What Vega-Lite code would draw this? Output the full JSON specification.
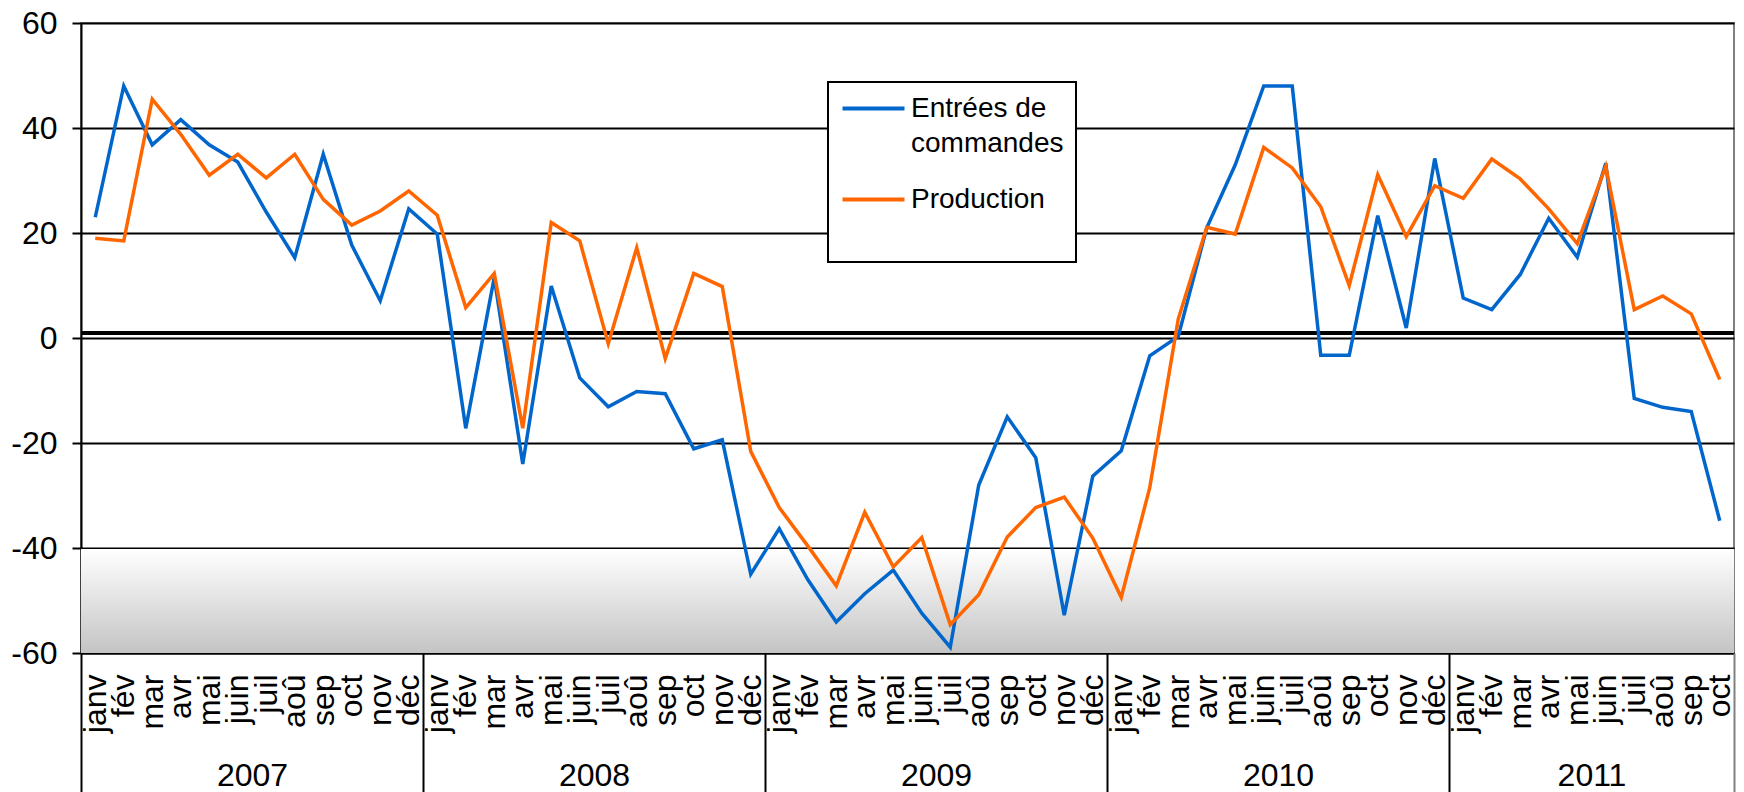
{
  "$schema": "https://vega.github.io/schema/vega-lite/v6.json",
  "width": 1653,
  "height": 630,
  "autosize": {"type": "none"},
  "padding": {"left": 81, "top": 23, "right": 10, "bottom": 139},
  "background": "white",
  "config": {
    "font": "Liberation Sans",
    "view": {"stroke": "#808080", "strokeWidth": 2},
    "legend": {"strokeWidth": 2},
    "axisY": {
      "grid": true, "gridColor": "black", "gridWidth": 2,
      "domainColor": "black", "domainWidth": 2,
      "tickColor": "black", "tickWidth": 2, "tickSize": 9,
      "labelFontSize": 32, "labelColor": "black", "labelPadding": 15
    },
    "axisX": {"grid": false}
  },
  "data": {
    "values": [
      {"t":1,"Entrées de commandes":23,"Production":19},
      {"t":2,"Entrées de commandes":48,"Production":18.5},
      {"t":3,"Entrées de commandes":36.8,"Production":45.5},
      {"t":4,"Entrées de commandes":41.6,"Production":38.8},
      {"t":5,"Entrées de commandes":36.8,"Production":31},
      {"t":6,"Entrées de commandes":33.5,"Production":35},
      {"t":7,"Entrées de commandes":24,"Production":30.5},
      {"t":8,"Entrées de commandes":15.3,"Production":35},
      {"t":9,"Entrées de commandes":35,"Production":26.4},
      {"t":10,"Entrées de commandes":17.7,"Production":21.5},
      {"t":11,"Entrées de commandes":7.1,"Production":24.2},
      {"t":12,"Entrées de commandes":24.6,"Production":28},
      {"t":13,"Entrées de commandes":19.8,"Production":23.4},
      {"t":14,"Entrées de commandes":-17.2,"Production":5.8},
      {"t":15,"Entrées de commandes":11.5,"Production":12.3},
      {"t":16,"Entrées de commandes":-24,"Production":-17.2},
      {"t":17,"Entrées de commandes":9.9,"Production":22},
      {"t":18,"Entrées de commandes":-7.6,"Production":18.5},
      {"t":19,"Entrées de commandes":-13.1,"Production":-1.1},
      {"t":20,"Entrées de commandes":-10.2,"Production":17.2},
      {"t":21,"Entrées de commandes":-10.6,"Production":-3.9},
      {"t":22,"Entrées de commandes":-21.1,"Production":12.3},
      {"t":23,"Entrées de commandes":-19.4,"Production":9.8},
      {"t":24,"Entrées de commandes":-45,"Production":-21.6},
      {"t":25,"Entrées de commandes":-36.3,"Production":-32.3},
      {"t":26,"Entrées de commandes":-46,"Production":-39.6},
      {"t":27,"Entrées de commandes":-54.1,"Production":-47.2},
      {"t":28,"Entrées de commandes":-48.7,"Production":-33.2},
      {"t":29,"Entrées de commandes":-44.2,"Production":-43.6},
      {"t":30,"Entrées de commandes":-52.4,"Production":-38},
      {"t":31,"Entrées de commandes":-58.9,"Production":-54.6},
      {"t":32,"Entrées de commandes":-28,"Production":-48.9},
      {"t":33,"Entrées de commandes":-15,"Production":-37.9},
      {"t":34,"Entrées de commandes":-22.8,"Production":-32.3},
      {"t":35,"Entrées de commandes":-52.8,"Production":-30.3},
      {"t":36,"Entrées de commandes":-26.3,"Production":-38.1},
      {"t":37,"Entrées de commandes":-21.5,"Production":-49.4},
      {"t":38,"Entrées de commandes":-3.4,"Production":-28.5},
      {"t":39,"Entrées de commandes":0.3,"Production":3.6},
      {"t":40,"Entrées de commandes":21,"Production":21.1},
      {"t":41,"Entrées de commandes":33,"Production":19.8},
      {"t":42,"Entrées de commandes":48,"Production":36.3},
      {"t":43,"Entrées de commandes":48,"Production":32.4},
      {"t":44,"Entrées de commandes":-3.3,"Production":25},
      {"t":45,"Entrées de commandes":-3.3,"Production":10},
      {"t":46,"Entrées de commandes":23.3,"Production":31.1},
      {"t":47,"Entrées de commandes":1.9,"Production":19.3},
      {"t":48,"Entrées de commandes":34.2,"Production":29},
      {"t":49,"Entrées de commandes":7.6,"Production":26.6},
      {"t":50,"Entrées de commandes":5.4,"Production":34.1},
      {"t":51,"Entrées de commandes":12.1,"Production":30.3},
      {"t":52,"Entrées de commandes":22.8,"Production":24.6},
      {"t":53,"Entrées de commandes":15.4,"Production":18},
      {"t":54,"Entrées de commandes":33.3,"Production":32.7},
      {"t":55,"Entrées de commandes":-11.5,"Production":5.4},
      {"t":56,"Entrées de commandes":-13.2,"Production":8},
      {"t":57,"Entrées de commandes":-14,"Production":4.6},
      {"t":58,"Entrées de commandes":-34.8,"Production":-7.9}
    ]
  },
  "transform": [
    {"fold": ["Entrées de commandes", "Production"], "as": ["serie", "valeur"]}
  ],
  "resolve": {"scale": {"x": "independent"}, "axis": {"x": "independent"}},
  "layer": [
    {
      "mark": {
        "type": "rect",
        "fill": {
          "gradient": "linear", "x1": 0, "y1": 0, "x2": 0, "y2": 1,
          "stops": [{"offset": 0, "color": "#ffffff"}, {"offset": 1, "color": "#c4c4c4"}]
        }
      },
      "encoding": {
        "y": {"datum": -40.25, "type": "quantitative", "scale": {"domain": [-60, 60], "nice": false, "zero": false}, "title": null},
        "y2": {"datum": -60}
      }
    },
    {
      "mark": {"type": "rule", "color": "black", "strokeWidth": 3.5},
      "encoding": {
        "y": {"datum": 0.9, "type": "quantitative", "title": null}
      }
    },
    {
      "mark": {"type": "line", "strokeWidth": 3.5, "strokeJoin": "miter"},
      "encoding": {
        "x": {
          "field": "t", "type": "quantitative",
          "scale": {"domain": [0.5, 58.5], "nice": false, "zero": false},
          "axis": {
            "orient": "bottom",
            "values": [1,2,3,4,5,6,7,8,9,10,11,12,13,14,15,16,17,18,19,20,21,22,23,24,25,26,27,28,29,30,31,32,33,34,35,36,37,38,39,40,41,42,43,44,45,46,47,48,49,50,51,52,53,54,55,56,57,58],
            "labelExpr": "['janv','fév','mar','avr','mai','juin','juil','aoû','sep','oct','nov','déc'][(datum.value - 1) % 12]",
            "labelAngle": -90, "labelAlign": "right", "labelBaseline": "middle",
            "labelPadding": 21, "labelFontSize": 32, "labelColor": "black",
            "labelOverlap": false, "labelFlush": false, "labelBound": false,
            "ticks": false, "domain": true, "domainColor": "black", "domainWidth": 2,
            "title": null, "grid": false
          }
        },
        "y": {
          "field": "valeur", "type": "quantitative",
          "scale": {"domain": [-60, 60], "nice": false, "zero": false},
          "axis": {"values": [-60, -40, -20, 0, 20, 40, 60], "labelExpr": "'' + datum.value"},
          "title": null
        },
        "color": {
          "field": "serie", "type": "nominal",
          "scale": {"domain": ["Entrées de commandes", "Production"], "range": ["#0066CC", "#FF6600"]},
          "legend": {
            "orient": "none", "legendX": 747, "legendY": 59,
            "title": " ", "titleOrient": "bottom", "titleFontSize": 26, "titlePadding": 10,
            "fillColor": "white", "strokeColor": "black",
            "padding": 12,
            "symbolType": "M-2.5,0H2.5", "symbolSize": 615, "symbolStrokeWidth": 4,
            "symbolOffset": 19,
            "labelFontSize": 28, "labelColor": "black", "labelOffset": 23, "labelLimit": 400,
            "rowPadding": 27,
            "labelExpr": "datum.label == 'Production' ? 'Production' : ['Entrées de', 'commandes']",
            "encode": {
              "labels": {
                "update": {
                  "lineHeight": {"value": 35.5}
                }
              }
            }
          }
        }
      }
    },
    {
      "mark": {"type": "point", "opacity": 0},
      "encoding": {
        "x": {
          "field": "t", "type": "quantitative",
          "scale": {"domain": [0.5, 58.5], "nice": false, "zero": false},
          "axis": {
            "orient": "bottom",
            "values": [6.5, 18.5, 30.5, 42.5, 53.5],
            "labelExpr": "['2007','2008','2009','2010','2011'][floor((datum.value - 0.5) / 12)]",
            "labelAngle": 0, "labelAlign": "center", "labelBaseline": "middle",
            "labelPadding": 122, "labelFontSize": 32, "labelColor": "black",
            "labelOverlap": false, "labelFlush": false, "labelBound": false,
            "ticks": false, "domain": false, "grid": false, "title": null
          }
        },
        "y": {"field": "valeur", "type": "quantitative", "title": null}
      }
    },
    {
      "mark": {"type": "point", "opacity": 0},
      "encoding": {
        "x": {
          "field": "t", "type": "quantitative",
          "scale": {"domain": [0.5, 58.5], "nice": false, "zero": false},
          "axis": {
            "orient": "bottom",
            "values": [0.5, 12.5, 24.5, 36.5, 48.5, 58.5],
            "labels": false, "ticks": true, "tickSize": 141, "tickWidth": 2,
            "tickColor": {"condition": {"test": "datum.value > 58", "value": "#808080"}, "value": "black"},
            "domain": false, "grid": false, "title": null
          }
        },
        "y": {"field": "valeur", "type": "quantitative", "title": null}
      }
    }
  ]
}
